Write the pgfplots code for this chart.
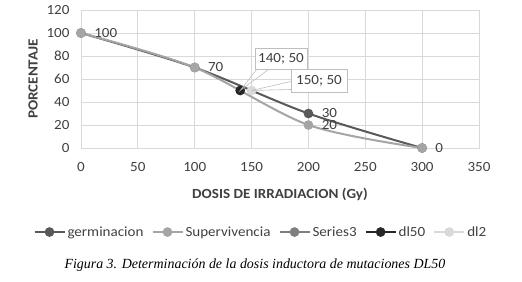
\documentclass[border=0pt]{standalone}
\usepackage{pgfplots}
\pgfplotsset{compat=1.18}
\usepackage{fontspec}
\setmainfont{Carlito}[FakeStretch=1.08]
\newfontfamily\capfont{Liberation Serif}
\definecolor{germ}{HTML}{595959}
\definecolor{superv}{HTML}{A5A5A5}
\definecolor{ser3}{HTML}{7F7F7F}
\definecolor{dlf}{HTML}{262626}
\definecolor{dlt}{HTML}{D9D9D9}
\definecolor{gridc}{HTML}{D9D9D9}
\definecolor{txt}{HTML}{404040}
\definecolor{boxc}{HTML}{BFBFBF}
\begin{document}
\begin{tikzpicture}
\useasboundingbox (-81bp,-134bp) rectangle (441bp,148bp);
\begin{axis}[
  at={(0,0)}, anchor=south west,
  scale only axis, width=398bp, height=138bp,
  xmin=0, xmax=350, ymin=0, ymax=120,
  xtick={0,50,...,350}, ytick={0,20,...,120},
  grid=major, grid style={gridc, line width=0.9bp},
  axis line style={gridc, line width=0.9bp},
  major tick length=0pt,
  tick label style={font=\fontsize{14}{16}\selectfont, text=txt},
  /pgf/number format/assume math mode=true,
  xticklabel style={yshift=-11bp},
  yticklabel style={xshift=-8bp},
  xlabel={\bfseries DOSIS DE IRRADIACION (Gy)},
  ylabel={\bfseries PORCENTAJE},
  label style={font=\fontsize{14}{16}\selectfont, text=txt},
  xlabel style={at={(axis description cs:0.5,-0.333)}, anchor=center},
  ylabel style={at={(axis description cs:-0.1206,0.5)}, anchor=center, rotate=0},
  clip=false,
  legend style={at={(axis description cs:0.452,-0.609)}, anchor=center, draw=none, fill=none,
    legend columns=-1, font=\fontsize{14}{16}\selectfont, text=txt,
    /tikz/every even column/.append style={column sep=6bp}},
  legend image code/.code={\draw[#1, mark repeat=2, mark phase=2] plot coordinates {(0bp,0bp)(15bp,0bp)(30bp,0bp)};},
  every axis plot/.append style={line width=2bp, mark=*, mark size=3.8bp},
]
\addplot[germ, smooth, mark options={solid, fill=germ},
  nodes near coords, point meta=explicit symbolic,
  every node near coord/.style={anchor=west, xshift=9bp, font=\fontsize{14}{16}\selectfont, text=txt}]
  coordinates {(0,100)[100] (100,70)[70] (200,30)[30] (300,0)[0]};
\addlegendentry{germinacion}
\addplot[superv, smooth, mark options={solid, fill=superv},
  nodes near coords, point meta=explicit symbolic,
  every node near coord/.style={anchor=west, xshift=9bp, font=\fontsize{14}{16}\selectfont, text=txt}]
  coordinates {(0,100)[] (100,70)[] (200,20)[20] (300,0)[]};
\addlegendentry{Supervivencia}
\addlegendimage{ser3, line width=2bp, mark=*, mark size=3.8bp, mark options={fill=ser3}}
\addlegendentry{Series3}
\addplot[dlf, mark options={fill=dlf}] coordinates {(140,50)};
\addlegendentry{dl50}
\addplot[dlt, mark options={fill=dlt}] coordinates {(150,50)};
\addlegendentry{dl2}
\coordinate (p1) at (axis cs:140,50);
\coordinate (p2) at (axis cs:150,50);
\coordinate (c1) at (axis cs:175.9,77.8);
\coordinate (c2) at (axis cs:209.3,58.7);
\coordinate (cap) at (axis description cs:0.437,-0.848);
\end{axis}
\node[font=\capfont\itshape\fontsize{14}{16}\selectfont, text=black] at (cap) {Figura 3. Determinación de la dosis inductora de mutaciones DL50};
\node[minimum width=52bp, minimum height=21bp, inner sep=0pt] (b1) at (c1) {};
\node[minimum width=56bp, minimum height=23bp, inner sep=0pt] (b2) at (c2) {};
\draw[boxc, line width=0.6bp] ([xshift=2bp]b1.south west) -- (p1) -- ([xshift=14bp]b1.south west);
\draw[boxc, line width=0.6bp] ([yshift=-9bp]b2.west) -- (p2) -- ([yshift=-1bp]b2.west);
\node[draw=boxc, fill=white, line width=0.6bp, minimum width=52bp, minimum height=21bp, inner sep=0pt, font=\fontsize{14}{16}\selectfont, text=txt] at (c1) {140; 50};
\node[draw=boxc, fill=white, line width=0.6bp, minimum width=56bp, minimum height=23bp, inner sep=0pt, font=\fontsize{14}{16}\selectfont, text=txt] at (c2) {150; 50};
\end{tikzpicture}
\end{document}
